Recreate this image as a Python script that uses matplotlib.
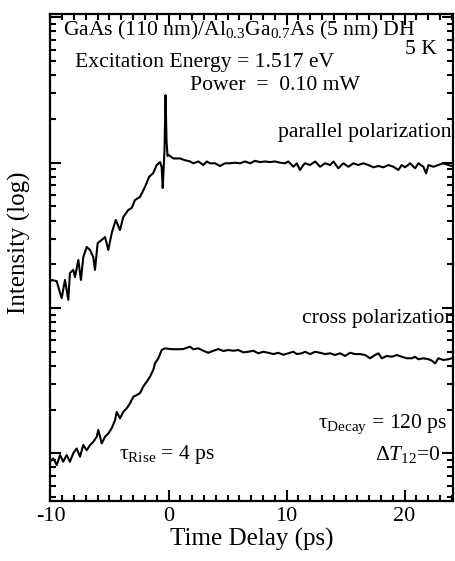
import numpy as np
import matplotlib
matplotlib.use("Agg")
import matplotlib.pyplot as plt
from matplotlib.ticker import MultipleLocator, NullFormatter, LogLocator

plt.rcParams['font.family'] = ['Liberation Serif', 'DejaVu Serif']
plt.rcParams['mathtext.fontset'] = 'custom'
plt.rcParams['mathtext.rm'] = 'Liberation Serif'
plt.rcParams['mathtext.it'] = 'Liberation Serif:italic'

# ---- data (time delay in ps, intensity in arb. units) ----
t_par = [-10.08, -9.90, -9.47, -9.19, -9.05, -8.77, -8.49, -8.35, -8.07, -7.92,
         -7.64, -7.42, -7.22, -6.93, -6.65, -6.37, -6.23, -6.00, -5.66, -5.38,
         -5.10, -4.81, -4.47, -4.11, -3.83, -3.41, -3.12, -2.84, -2.42, -1.99,
         -1.65, -1.29, -1.00, -0.72, -0.58, -0.49, -0.34, -0.25, -0.17, -0.08,
         0.00, 0.41, 0.97, 1.40, 1.82, 2.10, 2.53, 2.95, 3.24, 3.52,
         3.94, 4.36, 4.79, 5.21, 5.64, 6.06, 6.48, 6.91, 7.33, 7.75,
         8.18, 8.60, 9.03, 9.45, 9.87, 10.15, 10.58, 10.86, 11.14, 11.42,
         11.57, 11.99, 12.42, 12.84, 13.26, 13.69, 13.97, 14.39, 14.81, 15.24,
         15.66, 16.08, 16.51, 16.93, 17.36, 17.78, 18.20, 18.63, 19.05, 19.47,
         19.76, 20.04, 20.47, 20.89, 21.17, 21.59, 21.82, 22.02, 22.44, 22.86,
         23.29, 23.71, 24.00]
i_par = [15.1, 15.6, 15.3, 12.7, 11.7, 15.6, 11.4, 17.4, 18.3, 16.3,
         21.4, 15.6, 22.4, 26.3, 25.1, 22.4, 18.3, 28.0, 29.4, 30.8,
         25.1, 32.8, 40.4, 34.4, 42.3, 47.3, 48.8, 55.4, 58.1, 68.1,
         79.8, 85.0, 96.4, 101, 93.4, 67.0, 122, 292, 143, 111,
         113, 107, 107, 104, 102, 99.1, 102, 96.4, 102, 99.1,
         99.1, 94.9, 99.1, 99.1, 100, 99.1, 102, 99.1, 103, 101,
         102, 101, 102, 100, 99.1, 102, 93.8, 99.1, 89.1, 96.4,
         99.1, 96.4, 102, 93.8, 99.1, 96.4, 102, 91.5, 99.1, 93.8,
         99.1, 96.4, 99.1, 96.4, 93.0, 94.9, 93.0, 96.4, 93.8, 89.1,
         96.4, 93.0, 99.1, 91.5, 99.1, 93.8, 84.5, 96.4, 93.8, 96.4,
         99.1, 96.4, 94.9]

t_crs = [-10.04, -9.76, -9.47, -9.19, -8.92, -8.63, -8.35, -8.07, -7.78, -7.50,
         -7.22, -6.93, -6.65, -6.37, -6.08, -5.95, -5.66, -5.38, -5.10, -4.81,
         -4.53, -4.39, -4.11, -3.83, -3.54, -3.26, -2.98, -2.69, -2.42, -2.14,
         -1.85, -1.57, -1.29, -1.14, -0.86, -0.58, -0.30, 0.13, 0.69, 1.25,
         1.82, 2.10, 2.53, 2.95, 3.37, 3.80, 4.22, 4.64, 5.07, 5.49,
         5.92, 6.34, 6.76, 7.19, 7.61, 8.03, 8.46, 8.88, 9.31, 9.73,
         10.15, 10.58, 10.86, 11.29, 11.57, 11.99, 12.42, 12.84, 13.26, 13.69,
         14.11, 14.53, 14.96, 15.38, 15.81, 16.23, 16.65, 17.08, 17.50, 17.78,
         18.07, 18.49, 18.92, 19.34, 19.76, 20.19, 20.61, 20.89, 21.17, 21.59,
         22.02, 22.31, 22.59, 22.86, 23.29, 23.71, 24.00]
i_crs = [0.875, 0.924, 0.831, 0.973, 0.875, 0.973, 0.875, 1.00, 1.08, 0.948,
         1.14, 1.05, 1.14, 1.20, 1.30, 1.45, 1.17, 1.30, 1.37, 1.49,
         1.69, 1.93, 1.74, 1.93, 2.04, 2.21, 2.45, 2.52, 2.59, 2.88,
         3.11, 3.37, 3.75, 4.16, 4.51, 5.14, 5.28, 5.22, 5.20, 5.22,
         5.42, 5.20, 5.28, 5.08, 4.92, 5.08, 5.22, 5.06, 5.14, 5.08,
         5.14, 4.95, 5.00, 5.08, 4.88, 5.00, 4.92, 4.82, 4.92, 4.77,
         4.88, 5.00, 4.82, 4.88, 5.00, 4.82, 5.00, 4.92, 4.82, 4.88,
         4.75, 4.88, 4.68, 4.92, 4.82, 4.82, 4.75, 4.51, 4.75, 4.88,
         4.51, 4.68, 4.62, 4.75, 4.62, 4.51, 4.51, 4.62, 4.44, 4.51,
         4.44, 4.34, 4.16, 4.51, 4.39, 4.44, 4.51]

x_ticks = [-10, 0, 10, 20]
x_ticklabels = ["-10", "0", "10", "20"]

# ---- figure ----
fig = plt.figure(figsize=(4.56, 5.61), dpi=100)
ax = fig.add_axes([0.1086, 0.107, 0.8848, 0.868])

ax.plot(t_par, i_par, color='black', lw=1.5)
ax.plot(t_crs, i_crs, color='black', lw=1.5)

ax.set_yscale('log')
ax.set_xlim(-10.08, 24.1)
ax.set_ylim(0.47, 1055)

ax.set_xticks(x_ticks)
ax.set_xticklabels(x_ticklabels, fontsize=16)
ax.xaxis.set_minor_locator(MultipleLocator(1))
ax.yaxis.set_major_locator(LogLocator(base=10))
ax.yaxis.set_minor_locator(LogLocator(base=10, subs=np.arange(2, 10)))
ax.yaxis.set_major_formatter(NullFormatter())
ax.yaxis.set_minor_formatter(NullFormatter())

ax.tick_params(which='both', direction='in', top=True, right=True, width=1.5)
ax.tick_params(which='major', length=8)
ax.tick_params(which='minor', length=4.5)
ax.tick_params(axis='x', which='major', pad=4)
for s in ax.spines.values():
    s.set_linewidth(1.6)

ax.set_xlabel('Time Delay (ps)', fontsize=18, labelpad=2)
ax.set_ylabel('Intensity (log)', fontsize=18)
ax.yaxis.set_label_coords(-0.045, 0.53)

# ---- annotations ----
kw = dict(transform=ax.transAxes, fontsize=15.6)
ax.text(0.033, 0.99, r'GaAs (110 nm)/Al$_{0.3}$Ga$_{0.7}$As (5 nm) DH', va='top', ha='left', **kw)
ax.text(0.96, 0.927, '5 K', va='center', ha='right', **kw)
ax.text(0.063, 0.9, 'Excitation Energy = 1.517 eV', va='center', ha='left', **kw)
ax.text(0.347, 0.853, 'Power  =  0.10 mW', va='center', ha='left', **kw)
ax.text(0.997, 0.757, 'parallel polarization', va='center', ha='right', **kw)
ax.text(1.006, 0.375, 'cross polarization', va='center', ha='right', clip_on=True, **kw)
ax.text(0.172, 0.095, r'τ$_{\mathrm{Rise}}$ = 4 ps', va='center', ha='left', **kw)
ax.text(0.985, 0.157, r'τ$_{\mathrm{Decay}}$ = 120 ps', va='center', ha='right', **kw)
ax.text(0.97, 0.095, r'Δ$T_{12}$=0', va='center', ha='right', **kw)

fig.savefig('out.png', dpi=100)
